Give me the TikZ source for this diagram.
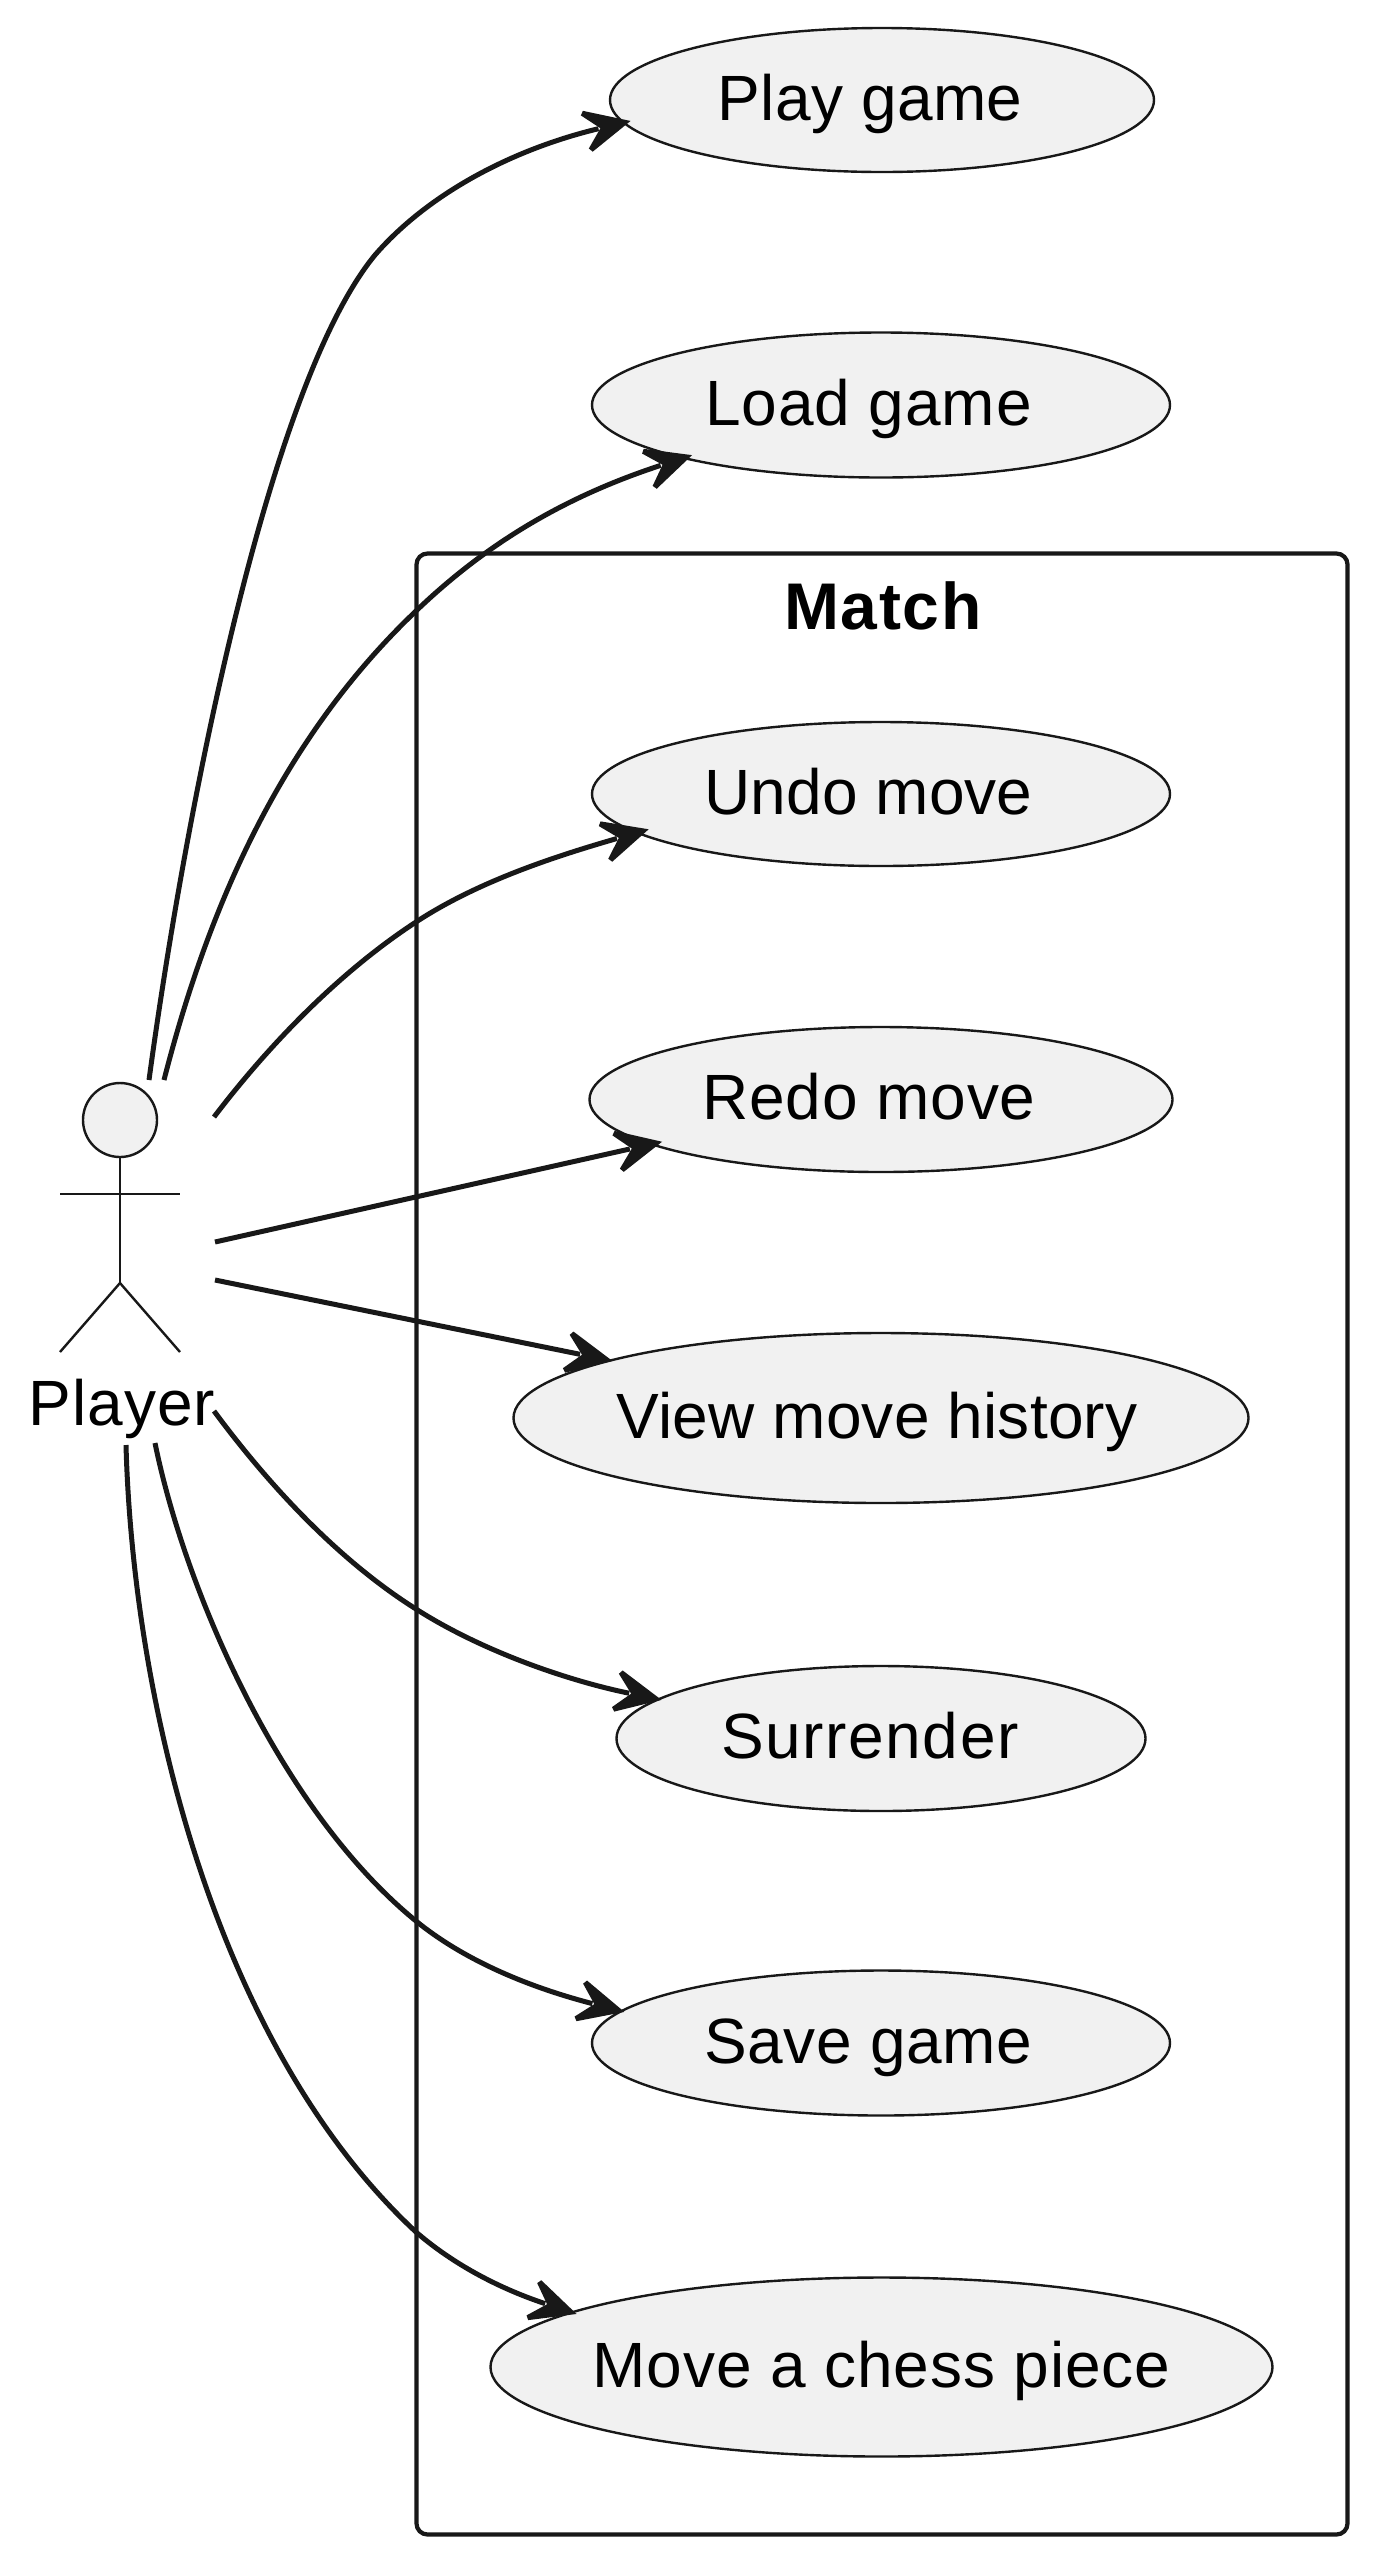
\documentclass[tikz,border=0pt]{standalone}
\usepackage{fontspec}
\setmainfont{Liberation Sans}
\usetikzlibrary{shapes.geometric,arrows.meta}
\definecolor{ink}{HTML}{181818}
\definecolor{pale}{HTML}{F1F1F1}
\pgfdeclarearrow{
  name=PumlHead,
  setup code={%
    \pgfarrowssettipend{0pt}%
    \pgfarrowssetlineend{-33pt}%
    \pgfarrowssetvisualbackend{-31pt}%
    \pgfarrowssetbackend{-47pt}%
    \pgfarrowshullpoint{0pt}{0pt}%
    \pgfarrowshullpoint{-47pt}{21pt}%
    \pgfarrowshullpoint{-47pt}{-21pt}%
  },
  drawing code={%
    \pgfsetfillcolor{ink}%
    \pgfpathmoveto{\pgfpoint{0pt}{0pt}}%
    \pgfpathlineto{\pgfpoint{-44pt}{21pt}}%
    \pgfpathlineto{\pgfpoint{-47pt}{17pt}}%
    \pgfpathlineto{\pgfpoint{-31pt}{0pt}}%
    \pgfpathlineto{\pgfpoint{-47pt}{-17pt}}%
    \pgfpathlineto{\pgfpoint{-44pt}{-21pt}}%
    \pgfpathclose
    \pgfusepathqfill
  }
}
\newcommand{\spc}[2]{{\addfontfeatures{LetterSpace=#1}#2}}
\tikzset{
  usecase/.style={ellipse,draw=ink,fill=pale,line width=2.4pt,inner xsep=-80pt,inner ysep=0pt,outer sep=0pt,
    text height=50pt,text depth=10pt,font=\fontsize{64}{70}\selectfont,text=black},
  limb/.style={draw=ink,line width=2.4pt},
  link/.style={draw=ink,line width=5pt,-{PumlHead}},
}
\begin{document}
\begin{tikzpicture}[x=1pt,y=-1pt]
\useasboundingbox (0,0) rectangle (1375,2560);
\fill[white] (0,0) rectangle (1375,2560);
% package
\node[draw=ink,line width=4.2pt,rounded corners=11pt,minimum width=931pt,minimum height=1981pt,inner sep=0pt,outer sep=0pt] (match) at (882,1544) {};
\node[anchor=base,font=\fontsize{66}{70}\selectfont\bfseries,inner sep=0pt] (matchtitle) at (883,629) {\spc{2.5}{Match}};
% use cases
\node[usecase,minimum width=544pt,minimum height=144pt] (play) at (882,100) {\kern-24pt \spc{0.6}{Play game}};
\node[usecase,minimum width=578pt,minimum height=145pt] (load) at (881,405) {\kern-25pt \spc{1.4}{Load game}};
\node[usecase,minimum width=578pt,minimum height=144pt] (undo) at (881,794) {\kern-25pt \spc{0.2}{Undo move}};
\node[usecase,minimum width=583pt,minimum height=145pt] (redo) at (881,1099.5) {\kern-24pt \spc{1.3}{Redo move}};
\node[usecase,minimum width=735pt,minimum height=170pt] (view) at (881,1418) {\kern-8pt \spc{0.3}{View move history}};
\node[usecase,minimum width=529pt,minimum height=145pt] (surr) at (881,1738.5) {\kern-22pt \spc{2.5}{Surrender}};
\node[usecase,minimum width=578pt,minimum height=145pt] (save) at (881,2043) {\kern-25pt \spc{1}{Save game}};
\node[usecase,minimum width=782pt,minimum height=179pt] (move) at (881.5,2367) {\spc{1.35}{Move a chess piece}};
% actor
\node[circle,draw=ink,fill=pale,line width=2.4pt,minimum size=74pt,inner sep=0pt,outer sep=0pt] (head) at (120,1120) {};
\coordinate (hip) at (120,1283);
\coordinate (armL) at (60,1194);
\coordinate (armR) at (180,1194);
\coordinate (footL) at (60,1352);
\coordinate (footR) at (180,1352);
\draw[limb] (head.south) -- (hip);
\draw[limb] (armL) -- (armR);
\draw[limb] (footL) -- (hip) -- (footR);
\node[anchor=base,font=\fontsize{64}{70}\selectfont,inner sep=0pt] (player) at (122,1425) {\spc{1.5}{Player}};
% connector start points
\coordinate (s1) at (149,1080);
\coordinate (s2) at (164,1080);
\coordinate (s3) at (214,1117);
\coordinate (s4) at (215,1242);
\coordinate (s5) at (215,1280);
\coordinate (s6) at (214,1411);
\coordinate (s7) at (155,1443);
\coordinate (s8) at (126,1445);
% connectors
\draw[link,shorten >=-7pt] (s1) .. controls (185,815) and (268,385) .. (375,255) .. controls (427,195) and (510,150) .. (play.185.3);
\draw[link,shorten >=-9pt] (s2) .. controls (205,920) and (275,745) .. (416,611) .. controls (490,540) and (570,495) .. (load.195.8);
\draw[link,shorten >=-12pt] (s3) .. controls (265,1050) and (335,975) .. (416,922) .. controls (480,880) and (560,855) .. (undo.189.7);
\draw[link,shorten >=-11pt] (s4) -- (redo.191.8);
\draw[link,shorten >=-2pt] (s5) -- (view.168.4);
\draw[link,shorten >=-3pt] (s6) .. controls (265,1480) and (335,1558) .. (416,1609) .. controls (480,1650) and (565,1680) .. (surr.170.4);
\draw[link,shorten >=-3pt] (s7) .. controls (185,1590) and (280,1810) .. (416,1921) .. controls (470,1965) and (540,1990) .. (save.173.4);
\draw[link,shorten >=-5pt] (s8) .. controls (133,1700) and (215,2045) .. (416,2232) .. controls (460,2270) and (510,2292) .. (move.170.2);
\end{tikzpicture}
\end{document}
